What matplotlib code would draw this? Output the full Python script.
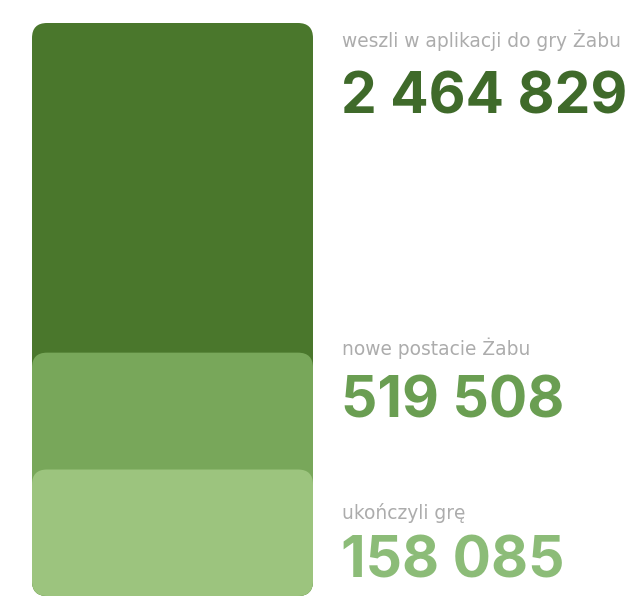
import numpy as np
import matplotlib
matplotlib.use("Agg")
import matplotlib.pyplot as plt
from matplotlib.patches import FancyBboxPatch

# funnel values (largest first)
labels = ["weszli w aplikacji do gry Żabu", "nowe postacie Żabu", "ukończyli grę"]
values = [2464829, 519508, 158085]

bar_colors = ["#4a772c", "#78a75a", "#9cc47e"]
num_colors = ["#3f6a2a", "#6a9e52", "#8cbc78"]

W, H = 641, 597
fig = plt.figure(figsize=(W / 100, H / 100), dpi=100)
fig.patch.set_facecolor("white")

# bar area in pixels: left, right, top, bottom
bx0, bx1, by0, by1 = 32, 313, 23, 596
ax = fig.add_axes([bx0 / W, 1 - by1 / H, (bx1 - bx0) / W, (by1 - by0) / H])
p = 0.55
ax.set_yscale("function", functions=(lambda v: np.abs(v) ** p, lambda y: np.abs(y) ** (1 / p)))
ax.set_ylim(0, values[0])
ax.set_xlim(0, 1)
ax.axis("off")

aw, ah = bx1 - bx0, by1 - by0
radius = 15 / aw
for v, c in zip(values, bar_colors):
    top_px = ax.transData.transform((0, v))[1]
    frac = ax.transAxes.inverted().transform((0, top_px))[1]
    box = FancyBboxPatch((0, 0), 1, frac, boxstyle=f"round,pad=0,rounding_size={radius}",
                         mutation_aspect=aw / ah, transform=ax.transAxes,
                         facecolor=c, edgecolor="none", clip_on=False)
    ax.add_patch(box)

def fmt(n):
    return f"{n:,}".replace(",", " ")

# text rows: label baseline, number baseline (pixels from top)
rows = [(47, 113), (355, 418), (519, 577)]
tx = 342 / W
for (ly, ny), lab, v, nc in zip(rows, labels, values, num_colors):
    fig.text(tx, 1 - ly / H, lab, fontsize=13.4, color="#acacac", va="baseline", ha="left",
             family="DejaVu Sans")
    fig.text(tx - 1 / W, 1 - ny / H, fmt(v), fontsize=41, color=nc, fontweight="bold",
             va="baseline", ha="left", family="Inter")

fig.savefig("out.png", dpi=100)
